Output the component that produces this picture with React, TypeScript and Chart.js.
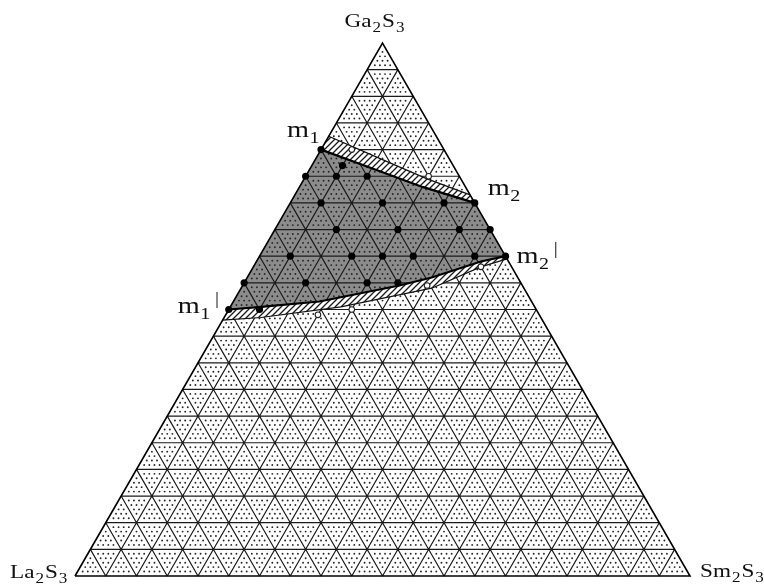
import React, { useEffect, useRef } from "react";
import { Chart, registerables } from "chart.js";
Chart.register(...registerables);

const H = Math.sqrt(3) / 2;

// Compositions in mol %: [Ga2S3, Sm2S3]; La2S3 = 100 - Ga2S3 - Sm2S3
const triangleCorners: number[][] = [[0, 0], [0, 100], [100, 0], [0, 0]];
const upperBoundary: number[][] = [[80, 0], [76.5, 10], [73, 20], [70, 30]];
const upperBandTop: number[][] = [[82.5, 0], [78.5, 10], [74.5, 20], [71.5, 28.5]];
const lowerBoundary: number[][] = [[50, 0], [50.5, 5], [51.5, 14], [54.5, 25.5], [56, 30], [59, 36.5], [60, 40]];
const lowerBandBottom: number[][] = [[48, 0], [48.5, 6], [50.5, 18], [54, 31], [58, 37], [59.5, 40.5]];

const singlePhasePoints: number[][] = [
  [80, 0], [77, 5], [75, 0], [75, 5], [75, 10],
  [70, 5], [70, 15], [70, 25], [70, 30],
  [65, 10], [65, 20], [65, 30], [65, 35],
  [60, 5], [60, 15], [60, 20], [60, 25], [60, 35], [60, 40],
  [55, 0], [55, 10], [55, 20], [55, 25],
  [50, 0], [50, 5],
];
const twoPhasePoints: number[][] = [[80, 5], [75, 20], [49, 15], [50, 20], [54.5, 30], [58, 37]];

const gridDivisions = 20;
const stippleDivisions = 120;

const cornerLabels = [
  { parts: ["Ga", "2", "S", "3"], at: [100, 0], dx: -38, dy: -16 },
  { parts: ["La", "2", "S", "3"], at: [0, 0], dx: -65, dy: 2 },
  { parts: ["Sm", "2", "S", "3"], at: [0, 100], dx: 10, dy: 1 },
];
const pointLabels = [
  { main: "m", sub: "1", prime: false, at: [80, 0], dx: -34, dy: -13 },
  { main: "m", sub: "2", prime: false, at: [70, 30], dx: 13, dy: -8 },
  { main: "m", sub: "2", prime: true, at: [60, 40], dx: 11, dy: 7 },
  { main: "m", sub: "1", prime: true, at: [50, 0], dx: -51, dy: 3 },
];

const toXY = (p: number[]) => ({ x: (p[1] + p[0] / 2) / 100, y: (p[0] / 100) * H });
const closed = (pts: number[][]) => [...pts, pts[0]].map(toXY);

export default function App() {
  const ref = useRef<HTMLCanvasElement>(null);
  useEffect(() => {
    const canvas = ref.current!;
    const pc = document.createElement("canvas");
    pc.width = 6;
    pc.height = 6;
    const pctx = pc.getContext("2d")!;
    pctx.fillStyle = "#ffffff";
    pctx.fillRect(0, 0, 6, 6);
    pctx.strokeStyle = "#1a1a1a";
    pctx.lineWidth = 1.3;
    pctx.beginPath();
    pctx.moveTo(0, 6); pctx.lineTo(6, 0);
    pctx.moveTo(-1, 1); pctx.lineTo(1, -1);
    pctx.moveTo(5, 7); pctx.lineTo(7, 5);
    pctx.stroke();
    const hatch = canvas.getContext("2d")!.createPattern(pc, "repeat")!;

    const regionPoly = [...lowerBoundary, ...upperBoundary.slice().reverse()];
    const upperBandPoly = [...upperBandTop, ...upperBoundary.slice().reverse()];
    const lowerBandPoly = [...lowerBoundary, ...lowerBandBottom.slice().reverse()];

    const texturePlugin = {
      id: "texture",
      afterDatasetDraw(chart: any, args: any) {
        if (chart.data.datasets[args.index].label !== "region") return;
        const ctx = chart.ctx;
        const xs = chart.scales.x, ys = chart.scales.y;
        const px = (p: number[]) => {
          const q = toXY(p);
          return [xs.getPixelForValue(q.x), ys.getPixelForValue(q.y)];
        };
        ctx.save();
        // stipple
        ctx.fillStyle = "#262626";
        const N = stippleDivisions;
        const step = N / gridDivisions;
        for (let i = 0; i <= N; i++) {
          for (let j = 0; j <= N - i; j++) {
            const l = N - i - j;
            if (i % step === 0 || j % step === 0 || l % step === 0) continue;
            const [x, y] = px([(i * 100) / N, (j * 100) / N]);
            ctx.beginPath();
            ctx.arc(x, y, 0.95, 0, Math.PI * 2);
            ctx.fill();
          }
        }
        // grid
        ctx.strokeStyle = "#1a1a1a";
        ctx.lineWidth = 1.2;
        ctx.beginPath();
        for (let k = 1; k < gridDivisions; k++) {
          const v = (k * 100) / gridDivisions;
          let a = px([v, 0]), b = px([v, 100 - v]);
          ctx.moveTo(a[0], a[1]); ctx.lineTo(b[0], b[1]);
          a = px([0, v]); b = px([100 - v, v]);
          ctx.moveTo(a[0], a[1]); ctx.lineTo(b[0], b[1]);
          a = px([0, 100 - v]); b = px([100 - v, 0]);
          ctx.moveTo(a[0], a[1]); ctx.lineTo(b[0], b[1]);
        }
        ctx.stroke();
        ctx.restore();
      },
    };

    const labelPlugin = {
      id: "labels",
      afterDraw(chart: any) {
        const ctx = chart.ctx;
        const xs = chart.scales.x, ys = chart.scales.y;
        const px = (p: number[]) => {
          const q = toXY(p);
          return [xs.getPixelForValue(q.x), ys.getPixelForValue(q.y)];
        };
        const fam = '"Liberation Serif", "Times New Roman", serif';
        ctx.save();
        ctx.fillStyle = "#111";
        ctx.textBaseline = "alphabetic";
        ctx.textAlign = "left";
        for (const lab of cornerLabels) {
          const [x0, y0] = px(lab.at);
          ctx.save();
          ctx.translate(x0 + lab.dx, y0 + lab.dy);
          ctx.scale(1.22, 1);
          let cx = 0;
          lab.parts.forEach((t, i) => {
            const sub = i % 2 === 1;
            ctx.font = `${sub ? 14 : 19}px ${fam}`;
            ctx.fillText(t, cx, sub ? 5 : 0);
            cx += ctx.measureText(t).width + 0.8;
          });
          ctx.restore();
        }
        for (const lab of pointLabels) {
          const [x0, y0] = px(lab.at);
          ctx.save();
          ctx.translate(x0 + lab.dx, y0 + lab.dy);
          ctx.scale(1.18, 1);
          ctx.font = `24px ${fam}`;
          ctx.fillText(lab.main, 0, 0);
          let cx = ctx.measureText(lab.main).width + 0.5;
          ctx.font = `17px ${fam}`;
          ctx.fillText(lab.sub, cx, 6);
          cx += ctx.measureText(lab.sub).width + 4;
          if (lab.prime) {
            ctx.font = `17px ${fam}`;
            ctx.fillText("|", cx, -9);
          }
          ctx.restore();
        }
        ctx.restore();
      },
    };

    const chart = new Chart(canvas, {
      type: "line",
      data: {
        datasets: [
          {
            label: "region",
            data: closed(regionPoly),
            fill: "shape",
            backgroundColor: "#8c8c8c",
            borderWidth: 0,
            borderColor: "rgba(0,0,0,0)",
            pointRadius: 0,
            order: 10,
          } as any,
          {
            label: "upperBand",
            data: closed(upperBandPoly),
            fill: "shape",
            backgroundColor: hatch,
            borderWidth: 0,
            borderColor: "rgba(0,0,0,0)",
            pointRadius: 0,
            order: 9,
          },
          {
            label: "lowerBand",
            data: closed(lowerBandPoly),
            fill: "shape",
            backgroundColor: hatch,
            borderWidth: 0,
            borderColor: "rgba(0,0,0,0)",
            pointRadius: 0,
            order: 9,
          },
          { label: "upperBoundary", data: upperBoundary.map(toXY), borderColor: "#000", borderWidth: 2.2, pointRadius: 0, fill: false, order: 5 },
          { label: "upperBandTop", data: upperBandTop.map(toXY), borderColor: "#111", borderWidth: 1.2, pointRadius: 0, fill: false, order: 5 },
          { label: "lowerBoundary", data: lowerBoundary.map(toXY), borderColor: "#000", borderWidth: 2.2, pointRadius: 0, fill: false, order: 5 },
          { label: "lowerBandBottom", data: lowerBandBottom.map(toXY), borderColor: "#111", borderWidth: 1.2, pointRadius: 0, fill: false, order: 5 },
          { label: "outline", data: triangleCorners.map(toXY), borderColor: "#000", borderWidth: 1.6, pointRadius: 0, fill: false, order: 4 },
          {
            label: "single",
            data: singlePhasePoints.map(toXY),
            showLine: false,
            pointRadius: 3.6,
            pointBackgroundColor: "#000",
            pointBorderColor: "#000",
            pointBorderWidth: 0,
            order: 2,
          },
          {
            label: "twoPhase",
            data: twoPhasePoints.map(toXY),
            showLine: false,
            pointRadius: 2.8,
            pointBackgroundColor: "#fff",
            pointBorderColor: "#222",
            pointBorderWidth: 1.1,
            order: 1,
          },
        ],
      },
      options: {
        responsive: false,
        maintainAspectRatio: false,
        animation: false,
        events: [],
        layout: { padding: { left: 75, right: 74, top: 43, bottom: 10 } },
        scales: {
          x: { type: "linear", min: 0, max: 1, display: false },
          y: { type: "linear", min: 0, max: H, display: false },
        },
        elements: { line: { tension: 0 } },
        plugins: { legend: { display: false }, tooltip: { enabled: false }, filler: { propagate: false } },
        datasets: { line: { clip: false } as any },
      } as any,
      plugins: [texturePlugin, labelPlugin],
    });
    return () => chart.destroy();
  }, []);
  return (
    <div style={{ position: "absolute", left: 0, top: 0, width: 764, height: 586, background: "#fff" }}>
      <canvas ref={ref} width={764} height={586} style={{ display: "block" }} />
    </div>
  );
}
